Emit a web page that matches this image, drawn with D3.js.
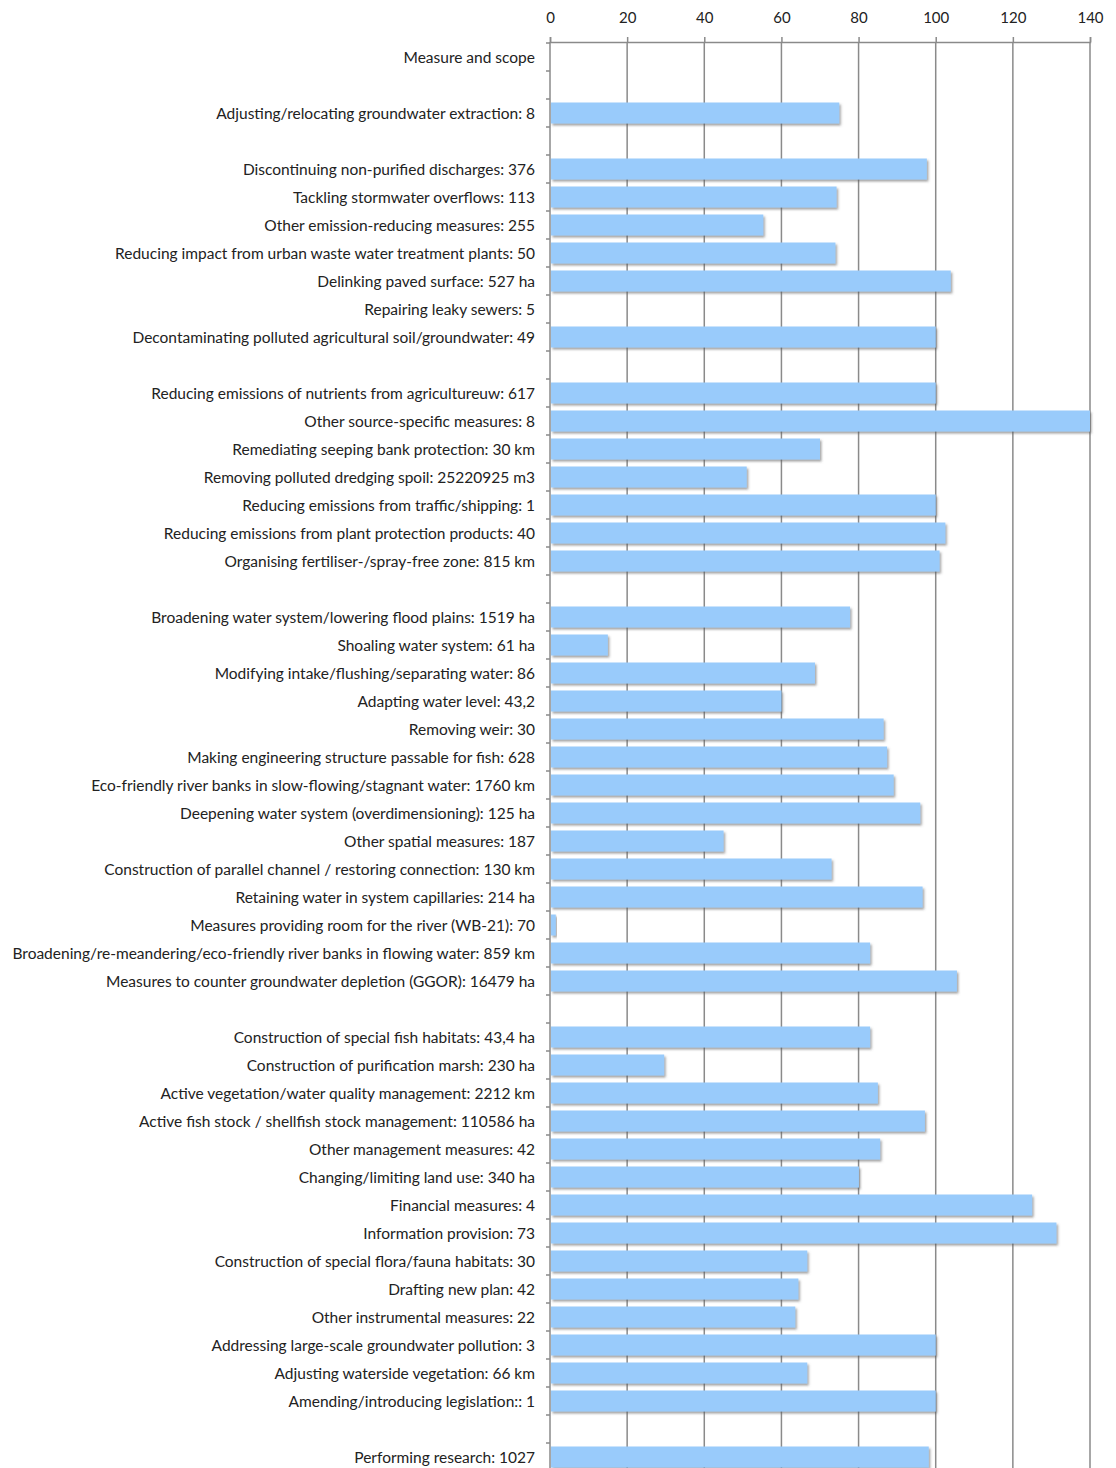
<!DOCTYPE html>
<html>
<head>
<meta charset="utf-8">
<script src="https://cdn.jsdelivr.net/npm/d3@7"></script>
<style>
  html, body { margin: 0; padding: 0; background: #fff; }
  svg { display: block; }
</style>
</head>
<body>
<div id="chart"></div>
<script>
const categories = [
  "Measure and scope",
  "",
  "Adjusting/relocating groundwater extraction: 8",
  "",
  "Discontinuing non-purified discharges: 376",
  "Tackling stormwater overflows: 113",
  "Other emission-reducing measures: 255",
  "Reducing impact from urban waste water treatment plants: 50",
  "Delinking paved surface: 527 ha",
  "Repairing leaky sewers: 5",
  "Decontaminating polluted agricultural soil/groundwater: 49",
  "",
  "Reducing emissions of nutrients from agricultureuw: 617",
  "Other source-specific measures: 8",
  "Remediating seeping bank protection: 30 km",
  "Removing polluted dredging spoil: 25220925 m3",
  "Reducing emissions from traffic/shipping: 1",
  "Reducing emissions from plant protection products: 40",
  "Organising fertiliser-/spray-free zone: 815 km",
  "",
  "Broadening water system/lowering flood plains: 1519 ha",
  "Shoaling water system: 61 ha",
  "Modifying intake/flushing/separating water: 86",
  "Adapting water level: 43,2",
  "Removing weir: 30",
  "Making engineering structure passable for fish: 628",
  "Eco-friendly river banks in slow-flowing/stagnant water: 1760 km",
  "Deepening water system (overdimensioning): 125 ha",
  "Other spatial measures: 187",
  "Construction of parallel channel / restoring connection: 130 km",
  "Retaining water in system capillaries: 214 ha",
  "Measures providing room for the river (WB-21): 70",
  "Broadening/re-meandering/eco-friendly river banks in flowing water: 859 km",
  "Measures to counter groundwater depletion (GGOR): 16479 ha",
  "",
  "Construction of special fish habitats: 43,4 ha",
  "Construction of purification marsh: 230 ha",
  "Active vegetation/water quality management: 2212 km",
  "Active fish stock / shellfish stock management: 110586 ha",
  "Other management measures: 42",
  "Changing/limiting land use: 340 ha",
  "Financial measures: 4",
  "Information provision: 73",
  "Construction of special flora/fauna habitats: 30",
  "Drafting new plan: 42",
  "Other instrumental measures: 22",
  "Addressing large-scale groundwater pollution: 3",
  "Adjusting waterside vegetation: 66 km",
  "Amending/introducing legislation:: 1",
  "",
  "Performing research: 1027"
];

// percentage values (null = no bar)
const values = [
  null, null, 75, null,
  97.7, 74.3, 55.3, 74, 103.9, 0, 100,
  null,
  100, 140, 70, 51, 100, 102.5, 101,
  null,
  77.8, 15, 68.7, 60, 86.5, 87.4, 89.1, 96, 45, 73, 96.6, 1.5, 83, 105.5,
  null,
  83, 29.6, 85, 97.2, 85.6, 80.1, 125, 131.3, 66.7, 64.4, 63.6, 100, 66.7, 100,
  null,
  98.2
];

const xTicks = [0, 20, 40, 60, 80, 100, 120, 140];

const W = 1116, H = 1468;
const mLeft = 550, mRight = 1090, mTop = 42;
const rowStep = 28;
const mBottom = mTop + 1 + categories.length * rowStep;

const svg = d3.select("#chart").append("svg")
  .attr("width", W).attr("height", H);

const defs = svg.append("defs");
const f = defs.append("filter").attr("id", "shadow")
  .attr("x", "-5%").attr("y", "-30%").attr("width", "115%").attr("height", "180%");
f.append("feDropShadow").attr("dx", 1.5).attr("dy", 2).attr("stdDeviation", 1.2)
  .attr("flood-color", "#555").attr("flood-opacity", 0.55);

const x = d3.scaleLinear().domain([0, 140]).range([mLeft, mRight]);
const y = d3.scaleBand().domain(d3.range(categories.length))
  .range([mTop + 1, mBottom]).paddingInner(0.25).paddingOuter(0.125);

// gridlines
svg.append("g").selectAll("line").data(xTicks.slice(1)).join("line")
  .attr("x1", d => x(d)).attr("x2", d => x(d))
  .attr("y1", mTop).attr("y2", H)
  .attr("stroke", "#8a8a8a").attr("stroke-width", 1.5);

// bars
svg.append("g").selectAll("rect")
  .data(values.map((v, i) => ({v, i})).filter(d => d.v !== null && d.v > 0))
  .join("rect")
  .attr("x", x(0) + 1)
  .attr("y", d => y(d.i))
  .attr("width", d => x(d.v) - x(0) - 1)
  .attr("height", y.bandwidth())
  .attr("fill", "#99cbfb")
  .attr("filter", "url(#shadow)");

// top axis
const xAxis = d3.axisTop(x).tickValues(xTicks).tickSize(5).tickPadding(14).tickFormat(d3.format("d"));
const gx = svg.append("g").attr("transform", `translate(0,${mTop})`).call(xAxis);
gx.select(".domain").attr("stroke", "#8a8a8a").attr("stroke-width", 1.5);
gx.selectAll(".tick line").attr("stroke", "#8a8a8a").attr("stroke-width", 1.5);
gx.selectAll("text").attr("font-family", "Lato, 'Open Sans', sans-serif")
  .attr("font-size", 15).attr("fill", "#222");

// left axis line and boundary ticks
svg.append("line").attr("x1", mLeft).attr("x2", mLeft).attr("y1", mTop).attr("y2", H)
  .attr("stroke", "#8a8a8a").attr("stroke-width", 1.5);
svg.append("g").selectAll("line").data(d3.range(categories.length + 1)).join("line")
  .attr("x1", mLeft - 4).attr("x2", mLeft)
  .attr("y1", i => mTop + 1 + i * rowStep).attr("y2", i => mTop + 1 + i * rowStep)
  .attr("stroke", "#8a8a8a").attr("stroke-width", 1.5);

// category labels
const labels = svg.append("g").selectAll("text").data(categories).join("text")
  .attr("x", mLeft - 15)
  .attr("y", (d, i) => y(i) + y.bandwidth() / 2 + 1)
  .attr("dy", "0.35em")
  .attr("text-anchor", "end")
  .attr("font-family", "Lato, 'Open Sans', sans-serif")
  .attr("font-size", 15.5)
  .attr("fill", "#222")
  .text(d => d);
// keep every label inside the left margin
labels.each(function() {
  const w = this.getComputedTextLength();
  const maxW = mLeft - 15 - 8;
  if (w > maxW) d3.select(this).attr("textLength", maxW).attr("lengthAdjust", "spacingAndGlyphs");
});
</script>
</body>
</html>
